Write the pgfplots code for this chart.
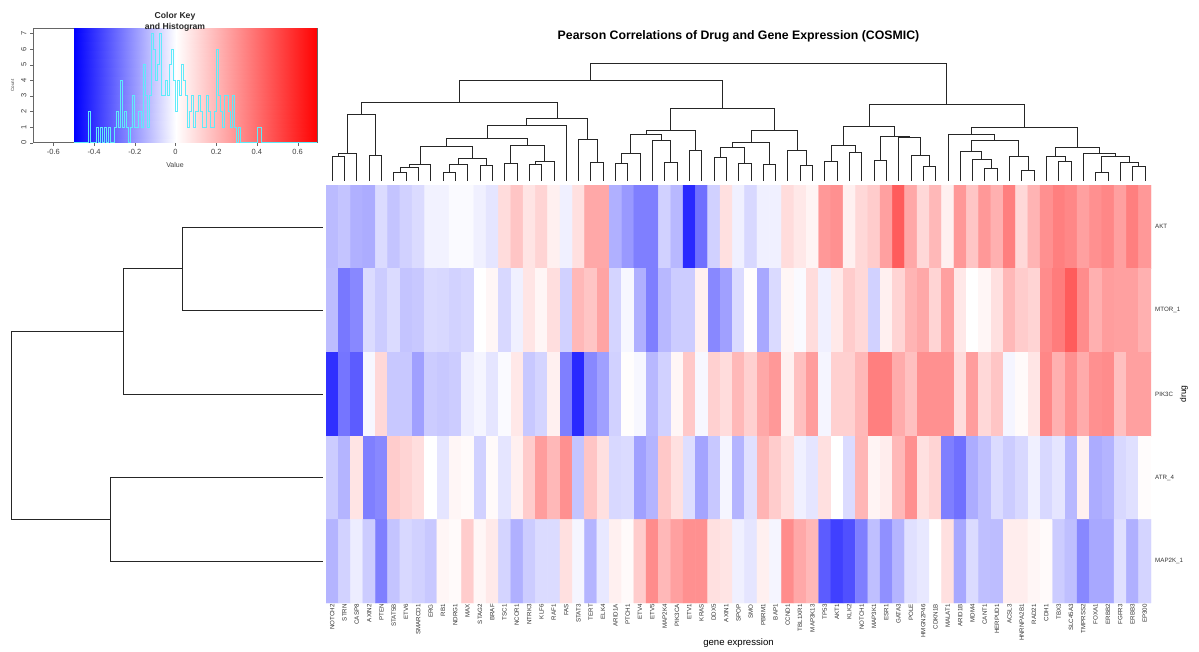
\documentclass[border=0pt]{standalone}
\usepackage{fontspec}
\setmainfont{Liberation Sans}
\usepackage{pgfplots}
\pgfplotsset{compat=1.18}
\newcommand\fs[1]{\fontsize{#1}{#1}\selectfont}
\definecolor{histcyan}{RGB}{95,235,250}
\pgfplotsset{
  dend/.style={black!85, line width=0.6pt},
  bwr/.style={colormap={bwr}{rgb255(0cm)=(0,0,255) rgb255(5cm)=(255,255,255) rgb255(12cm)=(255,0,0)}},
}
% top dendrogram merge: x_left h_left h x_right h_right
\newcommand\mg[5]{\addplot[dend] coordinates {(#1,#2) (#1,#3) (#4,#3) (#4,#5)};}
% left dendrogram merge: y_top h_top h y_bottom h_bottom
\newcommand\ml[5]{\addplot[dend] coordinates {(#2,#1) (#3,#1) (#3,#4) (#5,#4)};}
\begin{document}
\begin{tikzpicture}
\useasboundingbox (0,0) rectangle (1199pt,651pt);

% ---------------- colour key + histogram ----------------
\begin{axis}[
  at={(33pt,623pt)}, anchor=north west, scale only axis,
  width=284pt, height=114.7pt,
  xmin=-0.7, xmax=0.695, ymin=0, ymax=7.35,
  bwr, point meta min=-0.5, point meta max=0.7,
  axis line style={black!60},
  xtick={-0.6,-0.4,-0.2,0,0.2,0.4,0.6},
  xticklabels={-0.6,-0.4,-0.2,0,0.2,0.4,0.6},
  ytick={0,1,2,3,4,5,6,7},
  yticklabels={0,1,2,3,4,5,6,7},
  xtick pos=lower, ytick pos=left,
  tick align=outside, major tick length=3pt,
  tick style={black!60},
  xticklabel style={font=\fs{7.5}, text=black!75},
  yticklabel style={font=\fs{7.5}, text=black!75, rotate=90},
  after end axis/.code={
    \node[font=\fs{8.6}\bfseries, anchor=base, text=black!85] at (axis description cs:0.5,1.083) {Color Key};
    \node[font=\fs{8.6}\bfseries, anchor=base, text=black!85] at (axis description cs:0.5,0.991) {and Histogram};
    \node[font=\fs{7}, anchor=base, text=black!75] at (axis description cs:0.5,-0.219) {Value};
    \node[font=\fs{4.5}, rotate=90, text=black!75] at (axis description cs:-0.072,0.5) {Count};
  },
]
\addplot[surf, shader=interp, mesh/cols=3, point meta=explicit] coordinates {
  (-0.5,0)[-0.5] (0,0)[0] (0.695,0)[0.695]
  (-0.5,7.35)[-0.5] (0,7.35)[0] (0.695,7.35)[0.695]
};
\addplot[histcyan, const plot, line width=0.8pt] coordinates {
(-0.5,0) (-0.43,2) (-0.42,0) (-0.39,1) (-0.38,0) (-0.37,1) (-0.36,0) (-0.35,1) (-0.34,0)
(-0.33,1) (-0.32,0) (-0.30,1) (-0.29,2) (-0.28,1) (-0.27,4) (-0.26,1) (-0.25,2) (-0.24,1)
(-0.23,0) (-0.22,1) (-0.21,3) (-0.20,1) (-0.19,1) (-0.18,2) (-0.17,1) (-0.16,5) (-0.15,3)
(-0.14,1) (-0.13,3) (-0.12,7) (-0.11,6) (-0.10,4) (-0.09,5) (-0.08,7) (-0.07,3) (-0.06,3)
(-0.05,4) (-0.04,3) (-0.03,5) (-0.02,6) (-0.01,4) (0.00,2) (0.01,4) (0.02,3) (0.03,5)
(0.04,4) (0.05,3) (0.06,1) (0.07,2) (0.08,3) (0.09,1) (0.10,2) (0.11,3) (0.12,2) (0.13,1)
(0.14,1) (0.15,3) (0.16,2) (0.17,1) (0.18,1) (0.19,2) (0.20,6) (0.21,3) (0.22,2) (0.23,1)
(0.24,3) (0.25,3) (0.26,2) (0.27,1) (0.28,3) (0.29,1) (0.30,0) (0.31,1) (0.32,0) (0.40,1)
(0.42,0) (0.695,0)
};
\end{axis}

% ---------------- heatmap ----------------
\begin{axis}[
  at={(326pt,466pt)}, anchor=north west, scale only axis,
  width=825pt, height=418pt,
  xmin=-0.5, xmax=66.5, ymin=-0.5, ymax=4.5, y dir=reverse,
  enlargelimits=false,
  bwr, point meta min=-0.5, point meta max=0.7,
  axis line style={draw=none},
  major tick length=0pt,
  xtick={0,...,66}, ytick={0,...,4},
  xtick pos=lower, ytick pos=right,
  xticklabels={NOTCH2,STRN,CASP8,AXIN2,PTEN,STAT5B,ETV6,SMARCD1,ERG,RB1,NDRG1,MAX,STAG2,BRAF,TSC1,NCOR1,NTRK3,KLF6,RAF1,FAS,STAT3,TERT,ELK4,ARID1A,PTCH1,ETV4,ETV5,MAP2K4,PIK3CA,ETV1,KRAS,DDX5,AXIN1,SPOP,SMO,PBRM1,BAP1,CCND1,TBL1XR1,MAP3K13,TP53,AKT1,KLK2,NOTCH1,MAP3K1,ESR1,GATA3,POLE,HMGN2P46,CDKN1B,MALAT1,ARID1B,MDM4,CANT1,HERPUD1,ACSL3,HNRNPA2B1,RAD21,CDH1,TBX3,SLC45A3,TMPRSS2,FOXA1,ERBB2,FGFR3,ERBB3,EP300},
  yticklabels={AKT,MTOR\_1,PIK3C,ATR\_4,MAP2K\_1},
  xticklabel style={font=\fs{6.2}, rotate=90, anchor=east, inner sep=1pt, text=black!80},
  yticklabel style={font=\fs{6.2}, anchor=west, inner sep=0pt, xshift=4pt, text=black!80},
  after end axis/.code={
    \node[font=\fs{12.3}\bfseries, anchor=base] at (axis description cs:0.5,1.3483) {Pearson Correlations of Drug and Gene Expression (COSMIC)};
    \node[font=\fs{9.6}, anchor=base] at (axis description cs:0.5,-0.1017) {gene expression};
    \node[font=\fs{8.5}, rotate=90] at (axis description cs:1.0400,0.5) {drug};
  },
]
\addplot[matrix plot*, mesh/cols=67, point meta=explicit] coordinates {
(0,0)[-0.133] (1,0)[-0.116] (2,0)[-0.155] (3,0)[-0.163] (4,0)[-0.07] (5,0)[-0.116] (6,0)[-0.09] (7,0)[-0.07] (8,0)[-0.025] (9,0)[-0.025]
(10,0)[-0.01] (11,0)[-0.01] (12,0)[-0.03] (13,0)[-0.05] (14,0)[0.096] (15,0)[0.16] (16,0)[0.074] (17,0)[0.118] (18,0)[0.04] (19,0)[-0.03]
(20,0)[0.085] (21,0)[0.24] (22,0)[0.24] (23,0)[-0.155] (24,0)[-0.2] (25,0)[-0.25] (26,0)[-0.25] (27,0)[-0.09] (28,0)[-0.14] (29,0)[-0.42]
(30,0)[-0.28] (31,0)[-0.09] (32,0)[0.085] (33,0)[-0.03] (34,0)[-0.076] (35,0)[-0.03] (36,0)[-0.03] (37,0)[0.096] (38,0)[0.063] (39,0)[0.03]
(40,0)[0.283] (41,0)[0.305] (42,0)[0.04] (43,0)[0.107] (44,0)[0.14] (45,0)[0.26] (46,0)[0.447] (47,0)[0.24] (48,0)[0.107] (49,0)[0.195]
(50,0)[0.04] (51,0)[0.283] (52,0)[0.16] (53,0)[0.283] (54,0)[0.217] (55,0)[0.35] (56,0)[0.107] (57,0)[0.205] (58,0)[0.305] (59,0)[0.35]
(60,0)[0.33] (61,0)[0.26] (62,0)[0.305] (63,0)[0.33] (64,0)[0.26] (65,0)[0.35] (66,0)[0.283]
(0,1)[-0.13] (1,1)[-0.265] (2,1)[-0.233] (3,1)[-0.07] (4,1)[-0.1] (5,1)[-0.07] (6,1)[-0.116] (7,1)[-0.108] (8,1)[-0.073] (9,1)[-0.076]
(10,1)[-0.088] (11,1)[-0.08] (12,1)[0] (13,1)[0.025] (14,1)[-0.076] (15,1)[-0.03] (16,1)[0.07] (17,1)[0.025] (18,1)[0.09] (19,1)[-0.09]
(20,1)[0.195] (21,1)[0.16] (22,1)[0.25] (23,1)[-0.085] (24,1)[-0.015] (25,1)[-0.155] (26,1)[-0.25] (27,1)[-0.14] (28,1)[-0.1] (29,1)[-0.1]
(30,1)[0.04] (31,1)[-0.233] (32,1)[-0.186] (33,1)[-0.07] (34,1)[0.005] (35,1)[-0.17] (36,1)[-0.073] (37,1)[0.025] (38,1)[-0.01] (39,1)[0.096]
(40,1)[-0.03] (41,1)[0.06] (42,1)[0.14] (43,1)[0.107] (44,1)[-0.09] (45,1)[0.04] (46,1)[0.118] (47,1)[0.205] (48,1)[0.24] (49,1)[0.118]
(50,1)[0.26] (51,1)[0.063] (52,1)[0] (53,1)[0.025] (54,1)[0.085] (55,1)[0.195] (56,1)[0.14] (57,1)[0.118] (58,1)[0.315] (59,1)[0.36]
(60,1)[0.447] (61,1)[0.315] (62,1)[0.217] (63,1)[0.27] (64,1)[0.26] (65,1)[0.26] (66,1)[0.217]
(0,2)[-0.405] (1,2)[-0.27] (2,2)[-0.32] (3,2)[-0.015] (4,2)[0.107] (5,2)[-0.108] (6,2)[-0.108] (7,2)[-0.186] (8,2)[-0.1] (9,2)[-0.108]
(10,2)[-0.1] (11,2)[-0.035] (12,2)[-0.02] (13,2)[-0.05] (14,2)[-0.01] (15,2)[0.063] (16,2)[-0.108] (17,2)[-0.085] (18,2)[0.04] (19,2)[-0.25]
(20,2)[-0.42] (21,2)[-0.233] (22,2)[-0.186] (23,2)[-0.09] (24,2)[0.005] (25,2)[-0.015] (26,2)[-0.14] (27,2)[-0.09] (28,2)[0.025] (29,2)[0.15]
(30,2)[-0.015] (31,2)[0.13] (32,2)[0.096] (33,2)[0.195] (34,2)[0.13] (35,2)[0.24] (36,2)[0.283] (37,2)[0.04] (38,2)[0.173] (39,2)[0.27]
(40,2)[-0.02] (41,2)[0.13] (42,2)[0.13] (43,2)[0.195] (44,2)[0.35] (45,2)[0.35] (46,2)[0.23] (47,2)[0.173] (48,2)[0.305] (49,2)[0.305]
(50,2)[0.305] (51,2)[0.096] (52,2)[0.27] (53,2)[0.107] (54,2)[0.16] (55,2)[-0.02] (56,2)[0.015] (57,2)[0.07] (58,2)[0.33] (59,2)[0.217]
(60,2)[0.305] (61,2)[0.23] (62,2)[0.305] (63,2)[0.315] (64,2)[0.173] (65,2)[0.26] (66,2)[0.26]
(0,3)[-0.1] (1,3)[-0.147] (2,3)[0.075] (3,3)[-0.25] (4,3)[-0.233] (5,3)[0.14] (6,3)[0.118] (7,3)[0.09] (8,3)[0] (9,3)[-0.05]
(10,3)[0.025] (11,3)[0.015] (12,3)[-0.09] (13,3)[0.015] (14,3)[-0.05] (15,3)[0.04] (16,3)[0.14] (17,3)[0.27] (18,3)[0.195] (19,3)[0.305]
(20,3)[-0.116] (21,3)[0.16] (22,3)[0.085] (23,3)[-0.076] (24,3)[-0.07] (25,3)[-0.186] (26,3)[-0.147] (27,3)[0.15] (28,3)[0.085] (29,3)[-0.065]
(30,3)[-0.178] (31,3)[-0.108] (32,3)[-0.02] (33,3)[-0.147] (34,3)[-0.06] (35,3)[0.205] (36,3)[0.14] (37,3)[0.085] (38,3)[-0.03] (39,3)[-0.05]
(40,3)[0.085] (41,3)[0] (42,3)[-0.07] (43,3)[0.2] (44,3)[0.03] (45,3)[0.05] (46,3)[0.195] (47,3)[0.305] (48,3)[0.085] (49,3)[0.118]
(50,3)[-0.25] (51,3)[-0.28] (52,3)[-0.163] (53,3)[-0.125] (54,3)[-0.07] (55,3)[-0.1] (56,3)[-0.076] (57,3)[-0.03] (58,3)[-0.076] (59,3)[-0.05]
(60,3)[-0.14] (61,3)[0.04] (62,3)[-0.163] (63,3)[-0.147] (64,3)[-0.076] (65,3)[-0.06] (66,3)[0.008]
(0,4)[-0.147] (1,4)[-0.088] (2,4)[-0.035] (3,4)[-0.1] (4,4)[-0.25] (5,4)[-0.116] (6,4)[-0.076] (7,4)[-0.09] (8,4)[-0.108] (9,4)[0.025]
(10,4)[0.015] (11,4)[0.14] (12,4)[0.025] (13,4)[0.06] (14,4)[-0.085] (15,4)[-0.155] (16,4)[-0.1] (17,4)[-0.07] (18,4)[-0.07] (19,4)[0.085]
(20,4)[-0.02] (21,4)[-0.147] (22,4)[-0.045] (23,4)[0.04] (24,4)[0.015] (25,4)[0.14] (26,4)[0.315] (27,4)[0.195] (28,4)[0.26] (29,4)[0.305]
(30,4)[0.305] (31,4)[0.085] (32,4)[0.074] (33,4)[-0.03] (34,4)[-0.05] (35,4)[0.04] (36,4)[-0.02] (37,4)[0.315] (38,4)[0.24] (39,4)[0.195]
(40,4)[-0.32] (41,4)[-0.375] (42,4)[-0.343] (43,4)[-0.25] (44,4)[-0.125] (45,4)[-0.218] (46,4)[-0.147] (47,4)[-0.06] (48,4)[-0.045] (49,4)[0]
(50,4)[0.085] (51,4)[-0.17] (52,4)[-0.07] (53,4)[-0.125] (54,4)[-0.13] (55,4)[0.05] (56,4)[0.05] (57,4)[0.025] (58,4)[0.015] (59,4)[-0.1]
(60,4)[-0.125] (61,4)[-0.233] (62,4)[-0.17] (63,4)[-0.17] (64,4)[-0.06] (65,4)[-0.155] (66,4)[-0.085]
};
\end{axis}

% ---------------- column dendrogram ----------------
\begin{axis}[
  at={(326pt,470.3pt)}, anchor=south west, scale only axis,
  width=825pt, height=117.4pt,
  xmin=-0.5, xmax=66.5, ymin=0, ymax=352,
  hide axis, clip=false,
]
\mg{0}{0}{72}{1}{0}
\mg{0.5}{72}{82}{2}{0}
\mg{3}{0}{75}{4}{0}
\mg{1.25}{82}{199}{3.5}{75}
\mg{5}{0}{24}{6}{0}
\mg{5.5}{24}{40}{7}{0}
\mg{6.25}{40}{49}{8}{0}
\mg{9}{0}{25}{10}{0}
\mg{9.5}{25}{48}{11}{0}
\mg{12}{0}{45}{13}{0}
\mg{10.25}{48}{67}{12.5}{45}
\mg{7.125}{49}{104}{11.375}{67}
\mg{14}{0}{52}{15}{0}
\mg{16}{0}{49}{17}{0}
\mg{16.5}{49}{57}{18}{0}
\mg{14.5}{52}{107}{17.25}{57}
\mg{9.25}{104}{127}{15.875}{107}
\mg{12.5625}{127}{166}{19}{0}
\mg{21}{0}{55}{22}{0}
\mg{20}{0}{124}{21.5}{55}
\mg{15.78125}{166}{187}{20.75}{124}
\mg{2.375}{199}{236}{18.265625}{187}
\mg{23}{0}{52}{24}{0}
\mg{23.5}{52}{81}{25}{0}
\mg{27}{0}{55}{28}{0}
\mg{26}{0}{122}{27.5}{55}
\mg{24.25}{81}{140}{26.75}{122}
\mg{29}{0}{90}{30}{0}
\mg{25.5}{140}{152}{29.5}{90}
\mg{31}{0}{70}{32}{0}
\mg{33}{0}{52}{34}{0}
\mg{31.5}{70}{100}{33.5}{52}
\mg{35}{0}{49}{36}{0}
\mg{32.5}{100}{115}{35.5}{49}
\mg{38}{0}{47}{39}{0}
\mg{37}{0}{92}{38.5}{47}
\mg{34}{115}{152}{37.75}{92}
\mg{27.5}{152}{217}{35.875}{152}
\mg{10.3203}{236}{300}{31.6875}{217}
\mg{40}{0}{59}{41}{0}
\mg{42}{0}{84}{43}{0}
\mg{40.5}{59}{105}{42.5}{84}
\mg{44}{0}{62}{45}{0}
\mg{48}{0}{42}{49}{0}
\mg{47}{0}{76}{48.5}{42}
\mg{46}{0}{129}{47.75}{76}
\mg{44.5}{62}{134}{46.875}{129}
\mg{41.5}{105}{164}{45.6875}{134}
\mg{53}{0}{36}{54}{0}
\mg{52}{0}{65}{53.5}{36}
\mg{51}{0}{89}{52.75}{65}
\mg{56}{0}{31}{57}{0}
\mg{55}{0}{74}{56.5}{31}
\mg{51.875}{89}{122}{55.75}{74}
\mg{50}{0}{139}{53.8125}{122}
\mg{59}{0}{57}{60}{0}
\mg{58}{0}{72}{59.5}{57}
\mg{62}{0}{24}{63}{0}
\mg{65}{0}{42}{66}{0}
\mg{64}{0}{55}{65.5}{42}
\mg{62.5}{24}{74}{64.75}{55}
\mg{61}{0}{82}{63.625}{74}
\mg{58.75}{72}{100}{62.3125}{82}
\mg{51.90625}{139}{160}{60.53125}{100}
\mg{43.59375}{164}{229}{56.21875}{160}
\mg{21.0039}{300}{352}{49.90625}{229}
\end{axis}

% ---------------- row dendrogram ----------------
\begin{axis}[
  at={(11pt,466pt)}, anchor=north west, scale only axis,
  width=312pt, height=418pt,
  xmin=0, xmax=312, x dir=reverse,
  ymin=-0.5, ymax=4.5, y dir=reverse,
  hide axis, clip=false,
]
\ml{0}{0}{141}{1}{0}
\ml{0.5}{141}{200}{2}{0}
\ml{3}{0}{213}{4}{0}
\ml{1.25}{200}{312}{3.5}{213}
\end{axis}
\end{tikzpicture}
\end{document}
